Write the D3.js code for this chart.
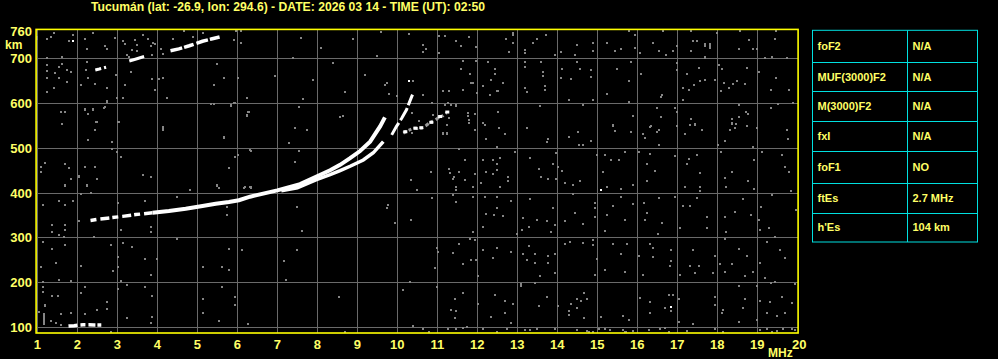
<!DOCTYPE html>
<html><head><meta charset="utf-8">
<script src="https://cdn.jsdelivr.net/npm/d3@7"></script>
<style>
html,body{margin:0;padding:0;background:#000;}
svg{display:block;}
text{font-family:"Liberation Sans",Arial,sans-serif;font-weight:bold;}
</style></head>
<body>
<svg id="chart" width="998" height="359"></svg>
<script>
const titleText = "Tucumán (lat: -26.9, lon: 294.6) - DATE: 2026 03 14 - TIME (UT): 02:50";
const freqTicks = d3.range(1, 21);
const heightTicks = [100, 200, 300, 400, 500, 600, 700, 760];
const gridHeights = [100, 200, 300, 400, 500, 600, 700];
const paramNames = ["foF2", "MUF(3000)F2", "M(3000)F2", "fxI", "foF1", "ftEs", "h'Es"];
const paramValues = ["N/A", "N/A", "N/A", "N/A", "NO", "2.7 MHz", "104 km"];

// echo traces [frequency MHz, virtual height km]
const esTrace = [[1.78,102],[1.92,103],[2.04,104.5],[2.15,105],[2.29,105],[2.42,104.5],[2.6,104.5]];
const fTraceO = [[2.33,338],[2.55,341],[2.75,343],[3.13,347],[3.46,351],[3.88,355],[4.29,359],[4.71,364],[5.13,370],[5.46,375],[5.79,379],[6.04,383],[6.32,391],[7.0,405],[7.57,419],[7.98,436],[8.32,450],[8.57,462],[8.82,477],[9.07,493],[9.32,514],[9.57,548],[9.69,568]];
const fTraceX = [[7.1,404],[7.5,411],[7.98,429],[8.32,440],[8.57,449],[8.82,459],[9.15,473],[9.4,489],[9.65,514]];
const fTraceSteep = [[9.86,529],[9.98,548],[10.11,566],[10.23,585],[10.3,601],[10.38,619]];
const scatterTrace = [[10.15,533],[10.25,538],[10.4,544],[10.5,543],[10.61,544],[10.72,550],[10.82,557],[10.95,562],[11.07,570],[11.15,572],[11.23,578]];
const scatterWhite = [[10.2,536],[10.45,544],[10.6,545],[10.85,557],[11.07,570],[11.25,580]];
const multiSeg1 = [[2.45,674],[2.55,676],[2.72,680]];
const multiSeg2 = [[3.3,694],[3.45,698],[3.67,704]];
const multiSeg3 = [[4.33,717],[4.54,721],[4.8,728],[5.13,738],[5.35,743],[5.58,748]];
const whiteDots = [[1.88,739],[16.84,144],[15.1,406],[10.3,650]];

// background noise [frequency MHz, height km]
const noise = [
[1.33,747],[1.43,756],[1.23,743],[1.88,753],[1.79,739],[2.38,756],[2.19,744],[2.23,721],[2.94,745],[3.14,739],
[3.44,741],[3.5,729],[3.63,753],[3.77,744],[3.83,727],[2.69,727],[2.73,721],[1.23,700],[1.63,702],[1.23,684],
[1.63,687],[1.23,671],[1.44,667],[1.54,680],[1.75,674],[1.83,670],[1.23,656],[1.53,656],[1.73,647],[1.42,634],
[1.23,625],[2.23,692],[2.22,674],[2.08,640],[2.27,656],[2.43,643],[2.73,634],[2.73,603],[2.96,662],[2.98,612],
[3.14,612],[3.19,640],[3.33,670],[3.23,708],[3.29,704],[3.88,708],[3.88,653],[3.94,630],[4.03,653],[4.13,656],
[4.23,612],[4.08,721],[4.13,710],[4.38,744],[4.67,760],[4.88,747],[5.13,756],[5.48,687],[5.68,656],[5.43,640],
[5.93,740],[5.96,761],[6.08,761],[6.08,734],[6.03,656],[6.25,612],[6.93,661],[5.83,595],[5.93,601],[6.23,573],
[6.29,581],[5.33,599],[5.43,599],[1.58,581],[1.68,581],[2.19,586],[2.38,586],[2.27,576],[2.46,558],[1.63,554],
[2.67,590],[3.02,558],[4.13,547],[1.0,748],[1.0,744],[3.38,718],[3.48,716],[3.2,731],[3.9,735],[3.95,733],
[1.68,416],[2.23,416],[2.08,396],[2.33,399],[1.13,372],[1.53,381],[1.69,372],[1.88,381],[3.02,377],[3.69,381],
[4.48,390],[4.83,407],[5.48,416],[6.19,413],[6.33,413],[1.36,328],[1.69,328],[1.38,313],[1.53,306],[1.69,316],
[1.67,301],[2.04,337],[2.42,301],[3.08,317],[3.83,323],[3.83,312],[4.48,296],[5.73,349],[5.73,368],[1.13,290],
[1.38,275],[1.69,284],[2.83,284],[3.13,287],[3.38,278],[3.02,256],[3.69,251],[3.98,251],[2.08,237],[1.48,243],
[1.08,234],[2.89,226],[3.02,234],[3.83,215],[5.13,234],[5.63,234],[5.78,228],[5.78,275],[6.11,273],[7.17,247],
[7.21,205],[1.13,201],[1.53,206],[1.83,202],[1.13,189],[1.13,178],[1.38,170],[1.51,170],[2.19,190],[2.08,175],
[2.73,155],[2.73,140],[2.48,137],[3.08,202],[3.23,193],[3.02,185],[3.69,189],[3.88,170],[3.88,123],[3.83,110],
[3.23,119],[1.83,131],[1.58,128],[2.19,128],[1.33,114],[1.48,110],[1.58,105],[5.13,163],[5.13,131],[5.63,189],
[5.94,166],[5.94,150],[5.53,113],[1.16,130],[1.16,126],[1.16,122],[1.16,118],[1.16,114],[1.16,110],[1.16,106],
[1.05,134],[1.19,150],[1.19,147],[2.84,88],[6.26,106],
[1.58,581],[1.68,581],[1.63,553],[2.18,585],[2.38,585],[2.28,576],[2.48,558],[2.43,539],[2.68,591],[2.73,604],
[2.28,517],[3.03,558],[2.88,513],[2.88,498],[2.98,490],[3.08,480],[4.13,543],[4.13,540],[3.63,439],[3.83,435],[1.08,458],
[1.18,467],[1.08,445],[1.68,464],[1.78,454],[1.83,431],[1.68,414],[2.03,437],[2.03,434],[2.18,458],[2.43,458],[2.48,431],
[2.23,414],[4.83,405],[5.33,598],[5.43,598],[5.68,524],[5.68,521],[5.83,594],[5.94,601],[6.23,572],[6.28,581],[6.03,485],
[5.94,480],[5.78,454],[6.33,494],[5.48,414],[5.53,410],[6.18,410],[6.33,410],
[10.29,754],[11.05,749],[11.19,749],[11.48,738],[11.58,727],[11.79,747],[11.98,725],[10.63,729],[10.63,714],[10.73,721],
[11.05,712],[12.73,744],[12.9,756],[12.9,752],[12.9,734],[12.79,714],[13.19,719],[13.19,712],[13.48,744],[13.4,734],[13.72,753],
[13.93,708],[14.08,714],[14.48,730],[14.44,708],[14.88,734],[14.88,717],[15.25,734],[15.43,717],[15.58,721],[15.79,761],
[15.94,753],[15.94,723],[16.07,712],[16.4,734],[16.55,717],[16.65,761],[16.9,717],[16.98,727],[16.73,708],[17.34,761],
[17.4,738],[17.5,738],[17.34,717],[17.69,733],[17.69,730],[17.69,727],[17.83,731],[17.83,727],[17.83,723],[17.69,704],[17.69,700],[18.0,756],[18.57,761],[18.8,741],
[18.54,721],[18.9,721],[18.98,721],[19.48,760],[19.44,744],[19.19,701],[19.73,701],[19.38,702],
[11.63,693],[11.98,693],[12.28,692],[11.58,675],[11.83,665],[11.85,645],[12.44,675],[12.44,666],[12.63,645],[12.34,651],
[12.53,627],[12.14,638],[12.0,623],[13.19,691],[13.19,680],[13.59,692],[13.63,670],[13.63,660],[13.69,638],[13.69,630],
[13.19,634],[13.23,625],[14.13,675],[14.08,656],[14.34,653],[14.48,692],[14.58,675],[14.84,673],[14.84,659],[14.29,608],
[14.88,608],[15.23,621],[15.49,675],[15.84,692],[15.79,650],[16.09,666],[15.79,603],[16.59,614],[16.63,619],[16.98,690],
[16.98,673],[17.13,634],[17.29,630],[17.23,666],[17.42,641],[17.55,679],[17.58,649],[17.69,651],[17.94,651],[18.04,684],
[18.13,675],[18.17,645],[18.09,627],[18.29,634],[18.39,643],[18.48,650],[18.69,643],[18.73,679],[19.04,669],[19.48,656],
[19.34,630],[19.79,630],[17.13,608],[19.9,601],
[11.19,596],[11.35,595],[11.48,595],[11.78,571],[11.94,576],[12.53,581],[13.57,593],[14.63,596],[15.38,551],[15.9,571],
[16.34,549],[16.48,590],[16.58,569],[16.94,590],[16.98,579],[17.34,564],[17.44,554],[18.37,564],[18.47,553],[18.55,596],
[18.72,581],[18.77,576],[18.55,569],[19.34,590],[19.51,599],[18.37,553],
[11.23,550],[11.23,530],[11.13,530],[11.8,555],[11.94,539],[12.19,552],[12.55,545],[12.69,530],[12.5,503],[13.23,545],
[13.78,520],[13.73,513],[14.28,524],[14.54,507],[14.64,507],[14.53,535],[14.84,515],[15.38,548],[15.44,537],[15.83,535],
[16.13,530],[16.19,522],[16.33,546],[16.48,535],[16.54,539],[16.54,507],[16.98,548],[17.19,530],[17.32,552],[17.44,552],
[17.61,539],[18.01,507],[18.19,516],[18.32,540],[18.44,545],[18.73,548],[18.98,545],[19.73,539],[19.76,520],[18.38,555],
[18.9,503],
[11.54,498],[11.69,472],[11.29,453],[11.53,446],[11.4,431],[11.47,412],[11.69,429],[11.88,412],[11.94,442],[12.08,421],
[12.23,446],[12.38,472],[12.38,442],[12.48,463],[12.57,478],[12.58,412],[12.78,436],[12.78,426],[12.94,490],[13.33,478],
[13.54,453],[13.59,436],[13.78,431],[13.9,463],[13.98,488],[14.03,458],[14.13,449],[13.97,431],[14.19,422],[14.38,416],
[14.58,426],[14.98,485],[15.18,485],[15.33,473],[15.53,473],[15.13,446],[15.23,412],[15.59,409],[15.69,490],[15.88,416],
[16.04,490],[16.23,464],[16.33,487],[16.44,449],[16.23,426],[16.94,481],[17.23,464],[17.29,475],[17.48,485],[17.2,412],
[17.57,443],[17.57,412],[17.57,403],[18.09,490],[18.19,433],[18.23,412],[18.38,446],[18.77,426],[18.93,472],[18.93,409],
[19.13,490],[19.63,485],[19.68,458],[19.78,446],[19.84,403],
[11.4,394],[11.48,379],[11.88,390],[12.19,390],[12.48,391],[12.5,366],[12.65,348],[12.83,381],[12.23,353],[12.15,323],
[12.43,349],[13.13,344],[13.33,385],[13.48,340],[13.11,316],[13.3,323],[13.73,336],[13.88,366],[14.19,336],[13.94,327],
[14.38,396],[14.44,354],[14.65,330],[14.94,377],[14.94,366],[14.94,345],[15.23,349],[15.38,371],[15.59,390],[15.7,339],
[15.88,375],[16.17,377],[16.23,354],[16.19,338],[16.53,388],[16.61,332],[16.94,390],[17.15,371],[17.32,371],[17.07,322],
[17.48,388],[17.73,345],[17.73,322],[18.18,345],[18.44,357],[18.63,385],[18.84,349],[19.04,338],[19.1,368],[19.29,322],
[19.08,317],[19.38,394],[19.97,362],[18.22,312],
[7.48,272],[10.98,277],[11.03,268],[10.94,232],[11.54,285],[11.38,265],[11.63,240],[11.83,296],[11.94,295],[11.84,250],
[11.97,250],[11.88,313],[12.03,214],[12.13,272],[12.38,253],[12.48,277],[12.83,268],[12.98,308],[13.13,262],[13.23,250],
[13.44,262],[13.44,244],[13.28,281],[13.78,259],[13.78,244],[13.94,262],[13.94,221],[13.58,214],[13.44,199],[13.08,195],
[13.83,313],[14.19,285],[14.31,290],[14.64,287],[14.88,283],[14.9,295],[14.98,251],[14.94,217],[15.19,315],[15.38,285],
[15.19,227],[15.73,285],[15.59,262],[15.68,223],[16.03,259],[16.13,217],[16.31,285],[16.39,277],[16.39,257],[16.52,308],
[16.84,272],[16.84,247],[16.83,236],[17.08,217],[17.4,272],[17.44,220],[17.55,236],[17.33,236],[17.94,259],[17.9,220],
[18.08,240],[18.19,223],[18.36,240],[18.53,274],[18.69,214],[18.73,259],[18.88,223],[18.19,296],[19.07,244],[19.23,289],
[19.57,272],[19.69,253],[19.44,302],[19.19,210],[19.44,200],
[8.55,168],[10.15,182],[10.33,200],[10.98,189],[11.44,162],[11.33,137],[11.48,135],[11.63,177],[11.44,120],[12.03,152],
[12.33,122],[12.44,172],[12.69,157],[12.69,131],[12.88,152],[12.83,110],[13.08,192],[13.53,147],[13.74,168],[14.03,147],
[14.3,135],[14.3,127],[14.34,152],[14.49,142],[14.49,162],[14.59,157],[14.67,176],[14.75,162],[14.67,120],[15.09,122],
[15.65,125],[15.8,116],[16.08,164],[16.33,155],[16.33,132],[16.69,142],[16.79,172],[16.9,172],[16.84,135],[17.03,162],
[17.05,112],[17.4,107],[17.94,168],[17.94,150],[18.15,138],[18.13,131],[18.53,191],[18.53,112],[18.63,142],[18.69,162],
[18.98,192],[19.08,157],[19.23,131],[19.32,155],[19.5,125],[19.61,168],[19.69,131],[19.88,153],[18.98,116],[19.34,198],
[19.94,195],
[8.69,89],[10.4,103],[10.65,95],[10.78,89],[11.28,95],[11.48,95],[11.63,97],[11.73,101],[12.15,95],[12.48,89],
[12.75,95],[13.19,93],[13.33,93],[13.48,96],[13.94,95],[14.48,93],[14.73,91],[14.8,89],[14.9,89],[15.05,95],
[15.19,95],[15.32,93],[15.65,93],[15.9,91],[16.28,93],[16.57,95],[16.69,97],[17.23,91],[17.94,95],[18.15,89],
[19.07,93],[19.23,95],[19.36,89],[19.65,95],[19.86,95],[19.94,93],[15.68,89],[15.72,89],[16.8,89],[19.5,91],
[9.69,641],[9.73,645],[9.8,621],[9.98,616],[10.4,649],[10.65,619],[10.86,601],[11.13,626],[11.3,628],[11.48,594],
[7.65,609],[7.55,591],[7.43,545],[7.73,539],[8.63,572],[7.3,510],[7.55,492],[7.44,469],[6.32,495],[6.32,413],
[7.48,368],[7.63,315],[9.76,372],[9.73,365],[9.94,332],[10.34,340],[10.34,428],[10.86,387],[10.84,447],[10.48,406],
[11.32,443],[11.42,434],[11.48,407],[11.38,394],[10.36,578],[10.36,533],[10.88,574],[10.55,559],[11.28,600],[11.3,566],
[11.13,533],[11.23,533],[11.65,630],[11.78,578],[11.8,563],[11.88,645],[12.15,639],[12.32,619],[12.48,626],[12.15,555],
[12.22,519],[12.15,473],[12.48,451],[8.57,570],
[7.6,745],[8.1,722],[8.4,690],[8.9,742],[9.2,662],[9.5,705],[7.9,652],[9.6,758],[8.7,625],[7.4,700]
];

const svg = d3.select("#chart");
const x = d3.scaleLinear().domain([1, 20]).range([37.3, 797.3]);
const y = d3.scaleLinear().domain([100, 700]).range([327, 58.3]);
const yTop = y(764.5), yBot = y(86.6), xLeft = x(0.97), xRight = x(20.02);

const YELLOW = "#ffff00";
const LABEL = "#ffff66";
const GRID = "#6a6a6a";
const NOISE = "#858585";

// grid
const g = svg.append("g");
g.selectAll("line.v").data(freqTicks.filter(d => d < 20)).join("line")
  .attr("x1", d => Math.round(x(d)) + 0.5).attr("x2", d => Math.round(x(d)) + 0.5)
  .attr("y1", yTop).attr("y2", yBot).attr("stroke", GRID).attr("stroke-width", 1);
g.selectAll("line.h").data(gridHeights).join("line")
  .attr("y1", d => Math.round(y(d)) + 0.5).attr("y2", d => Math.round(y(d)) + 0.5)
  .attr("x1", xLeft).attr("x2", xRight).attr("stroke", GRID).attr("stroke-width", 1);

// noise
svg.append("g").selectAll("rect").data(noise).join("rect")
  .attr("x", d => Math.round(x(d[0])) - 1).attr("y", d => Math.round(y(d[1])) - 1)
  .attr("width", 2).attr("height", 2).attr("fill", NOISE);

// traces
const line = d3.line().x(d => x(d[0])).y(d => y(d[1]));
function trace(data, w, color, dash) {
  svg.append("path").datum(data).attr("d", line).attr("fill", "none")
    .attr("stroke", color).attr("stroke-width", w).attr("stroke-linecap", "butt")
    .attr("stroke-dasharray", dash || null);
}
trace(esTrace, 3.5, "#ffffff", "9,3,5,3,7,2");
trace(fTraceO.slice(0, 6), 3.5, "#ffffff", "6,4,9,3");
trace(fTraceO.slice(5), 4, "#ffffff");
trace(fTraceX, 3.5, "#ffffff");
trace(fTraceSteep, 3, "#ffffff", "14,3");
trace(scatterTrace, 3, "#9a9a9a", "4,2,3,3");
svg.append("g").selectAll("rect").data(scatterWhite).join("rect")
  .attr("x", d => x(d[0]) - 2).attr("y", d => y(d[1]) - 1.5).attr("width", 4).attr("height", 3).attr("fill", "#fff");
trace(multiSeg1, 3, "#ffffff", "6,3");
trace(multiSeg2, 3, "#ffffff");
trace(multiSeg3, 3.5, "#ffffff", "12,2,10,3");
svg.append("g").selectAll("rect").data(whiteDots).join("rect")
  .attr("x", d => Math.round(x(d[0])) - 1).attr("y", d => Math.round(y(d[1])) - 1)
  .attr("width", 2).attr("height", 2).attr("fill", "#fff");

// frame
svg.append("rect").attr("x", xLeft).attr("y", yTop).attr("width", xRight - xLeft).attr("height", yBot - yTop)
  .attr("fill", "none").attr("stroke", YELLOW).attr("stroke-width", 1.6);

// x labels
svg.append("g").selectAll("text").data(freqTicks).join("text")
  .attr("x", d => x(d) + (d === 20 ? 2 : 0)).attr("y", 349).attr("text-anchor", "middle")
  .attr("font-size", 13).attr("fill", LABEL).text(d => d);
svg.append("text").attr("x", 768).attr("y", 356.5).attr("font-size", 12).attr("fill", LABEL).text("MHz");

// y labels
svg.append("g").selectAll("text").data(heightTicks).join("text")
  .attr("x", 32).attr("y", d => y(d) + 5).attr("text-anchor", "end")
  .attr("font-size", 13).attr("fill", LABEL).text(d => d);
svg.append("text").attr("x", 5).attr("y", 49).attr("font-size", 12).attr("fill", LABEL).text("km");

// title
svg.append("text").attr("x", 91).attr("y", 11).attr("font-size", 12).attr("fill", LABEL)
  .attr("textLength", 394).attr("lengthAdjust", "spacingAndGlyphs").text(titleText);

// parameter table
const rowEdges = [30.3, 61.7, 91.3, 121.3, 151.3, 182.7, 212.7, 242];
const tX0 = 812.5, tX1 = 907.5, tX2 = 977.5;
const tg = svg.append("g");
tg.append("rect").attr("x", tX0).attr("y", rowEdges[0]).attr("width", tX2 - tX0).attr("height", rowEdges[7] - rowEdges[0])
  .attr("fill", "none").attr("stroke", "#00e0e0").attr("stroke-width", 1);
tg.append("line").attr("x1", tX1).attr("x2", tX1).attr("y1", rowEdges[0]).attr("y2", rowEdges[7]).attr("stroke", "#00e0e0");
tg.selectAll("line.r").data(rowEdges.slice(1, 7)).join("line")
  .attr("x1", tX0).attr("x2", tX2).attr("y1", d => Math.round(d) + 0.5).attr("y2", d => Math.round(d) + 0.5).attr("stroke", "#00e0e0");
tg.selectAll("text.n").data(paramNames).join("text")
  .attr("x", 817.5).attr("y", (d, i) => (rowEdges[i] + rowEdges[i + 1]) / 2 + 4)
  .attr("font-size", 11).attr("fill", LABEL).text(d => d);
tg.selectAll("text.v").data(paramValues).join("text")
  .attr("x", 912.5).attr("y", (d, i) => (rowEdges[i] + rowEdges[i + 1]) / 2 + 4)
  .attr("font-size", 11).attr("fill", LABEL).text(d => d);
</script>
</body></html>
